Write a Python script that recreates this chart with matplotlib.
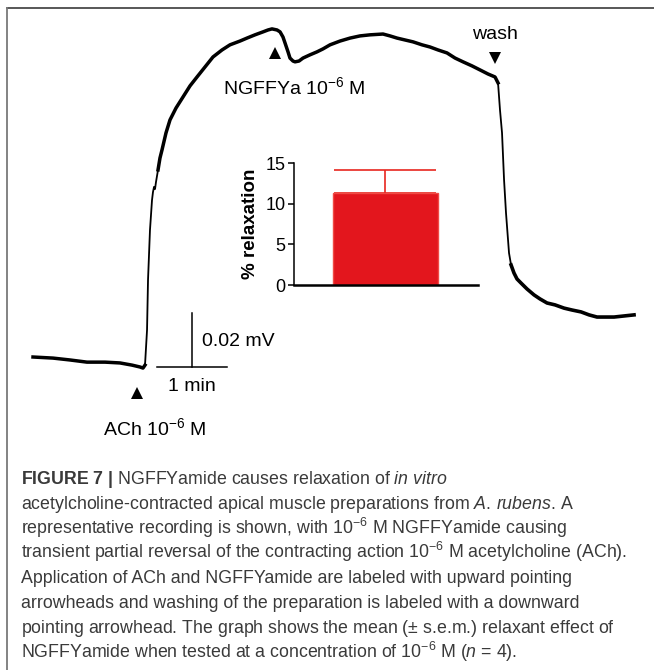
import matplotlib
matplotlib.use('Agg')
import matplotlib.pyplot as plt
from matplotlib.lines import Line2D

plt.rcParams['font.family'] = ['Liberation Sans', 'DejaVu Sans']
plt.rcParams['mathtext.fontset'] = 'custom'
plt.rcParams['mathtext.rm'] = 'Liberation Sans'
plt.rcParams['mathtext.it'] = 'Liberation Sans:italic'
plt.rcParams['mathtext.bf'] = 'Liberation Sans:bold'

# recording trace: time (min) and relative potential (mV)
trace_t = [0.0, 0.286, 0.529, 0.771, 1.029, 1.243, 1.414, 1.529, 1.571, 1.6,
           1.629, 1.643, 1.671, 1.7, 1.714, 1.729, 1.743, 1.757, 1.786, 1.814,
           1.843, 1.9, 1.957, 2.043, 2.143, 2.243, 2.343, 2.457, 2.571, 2.7,
           2.814, 2.957, 3.057, 3.171, 3.286, 3.357, 3.414, 3.486, 3.529, 3.571,
           3.6, 3.643, 3.671, 3.714, 3.743, 3.8, 3.857, 3.957, 4.057, 4.143,
           4.243, 4.386, 4.529, 4.671, 4.814, 5.0, 5.1, 5.2, 5.314, 5.429,
           5.557, 5.671, 5.786, 5.914, 6.029, 6.143, 6.271, 6.386, 6.5, 6.6,
           6.643, 6.671, 6.7, 6.729, 6.757, 6.786, 6.8, 6.829, 6.871, 6.914,
           6.971, 7.057, 7.157, 7.243, 7.343, 7.457, 7.586, 7.7, 7.829, 7.943,
           8.057, 8.171, 8.3, 8.443, 8.586]
trace_v = [0.0, -0.0004, -0.0011, -0.0019, -0.0019, -0.0022, -0.003, -0.0037, -0.0041, -0.003,
           0.01, 0.0285, 0.047, 0.0581, 0.0611, 0.0630, 0.0622, 0.0648, 0.0693, 0.0737,
           0.0767, 0.083, 0.0878, 0.0922, 0.0963, 0.1004, 0.1037, 0.1074, 0.1111, 0.1137,
           0.1156, 0.117, 0.1181, 0.1193, 0.1204, 0.1211, 0.1215, 0.1211, 0.1204, 0.1185,
           0.1163, 0.113, 0.1107, 0.1096, 0.1093, 0.1096, 0.1107, 0.1119, 0.113, 0.1141,
           0.1156, 0.117, 0.1181, 0.1189, 0.1193, 0.1196, 0.1189, 0.1181, 0.1174, 0.1167,
           0.1156, 0.1148, 0.1137, 0.1126, 0.1107, 0.1093, 0.1078, 0.1063, 0.1048, 0.1037,
           0.1015, 0.0915, 0.083, 0.0656, 0.0533, 0.0433, 0.0385, 0.0341, 0.0311, 0.0289,
           0.0274, 0.0252, 0.023, 0.0215, 0.02, 0.0193, 0.0181, 0.0174, 0.0167, 0.0156,
           0.0148, 0.0148, 0.0148, 0.0152, 0.0156]

# event markers (time, level)
ach_t, ach_v = 1.486, -0.0133
ngffya_t, ngffya_v = 3.457, 0.1126
wash_t, wash_v = 6.6, 0.1107

# inset: % relaxation
relax_mean = 11.3
relax_sem = 2.9
inset_ticks = [0, 5, 10, 15]

caption = [
    r'$\mathbf{FIGURE\ 7\ |}$ NGFFYamide causes relaxation of $\mathit{in}$ $\mathit{vitro}$',
    r'acetylcholine-contracted apical muscle preparations from $\mathit{A.\,rubens}$. A',
    r'representative recording is shown, with 10$^{-6}$ M NGFFYamide causing',
    r'transient partial reversal of the contracting action 10$^{-6}$ M acetylcholine (ACh).',
    r'Application of ACh and NGFFYamide are labeled with upward pointing',
    r'arrowheads and washing of the preparation is labeled with a downward',
    r'pointing arrowhead. The graph shows the mean ($\pm$ s.e.m.) relaxant effect of',
    r'NGFFYamide when tested at a concentration of 10$^{-6}$ M ($\mathit{n}$ = 4).',
]

W, H = 654, 670
fig = plt.figure(figsize=(W / 100, H / 100), dpi=100)
fig.patch.set_facecolor('white')

ax = fig.add_axes([0, 0, 1, 1])
ax.set_xlim(-0.4714, 8.871)
ax.set_ylim(-0.1159, 0.1322)
ax.axis('off')

# thin line for the whole trace, thicker where the signal is noisy
ax.plot(trace_t, trace_v, color='black', lw=1.3, solid_joinstyle='round')
ax.plot(trace_t[:10], trace_v[:10], color='black', lw=2.5, solid_joinstyle='round')
ax.plot(trace_t[18:71], trace_v[18:71], color='black', lw=2.5, solid_joinstyle='round')
ax.plot(trace_t[77:], trace_v[77:], color='black', lw=2.6, solid_joinstyle='round')

ax.plot([ach_t], [ach_v], marker='^', color='black', ms=9, mew=0)
ax.plot([ngffya_t], [ngffya_v], marker='^', color='black', ms=9, mew=0)
ax.plot([wash_t], [wash_v], marker='v', color='black', ms=9, mew=0)

fs = 14
ax.text(1.743, -0.0289, r'ACh 10$^{\mathregular{-6}}$ M', fontsize=fs, ha='center', va='baseline')
ax.text(2.714, 0.0974, r'NGFFYa 10$^{\mathregular{-6}}$ M', fontsize=fs, ha='left', va='baseline')
ax.text(wash_t, 0.1193, 'wash', fontsize=fs, ha='center', va='center')

# scale bar: 1 min x 0.02 mV
sb_t, sb_v = 1.771, -0.0037
ax.plot([sb_t, sb_t + 1.0], [sb_v, sb_v], color='black', lw=1.1)
ax.plot([sb_t + 0.5, sb_t + 0.5], [sb_v, sb_v + 0.02], color='black', lw=1.1)
ax.text(sb_t + 0.643, sb_v + 0.0093, '0.02 mV', fontsize=fs, ha='left', va='center')
ax.text(sb_t + 0.5, sb_v - 0.0074, '1 min', fontsize=fs, ha='center', va='center')

# inset bar chart
ax2 = fig.add_axes([294 / W, (H - 285) / H, 184 / W, 122 / H])
ax2.bar([0], [relax_mean], width=1.0, color='#e3161d', edgecolor='#f04a45', lw=1.0, zorder=2)
ax2.errorbar([0], [relax_mean], yerr=[[0], [relax_sem]], fmt='none', ecolor='#e8261f',
             elinewidth=1.2, capsize=37, capthick=1.2, zorder=1)
ax2.set_xlim(-0.87, 0.88)
ax2.set_ylim(0, 15)
ax2.set_yticks(inset_ticks)
ax2.set_xticks([])
ax2.spines['top'].set_visible(False)
ax2.spines['right'].set_visible(False)
ax2.spines['left'].set_linewidth(1.1)
ax2.spines['bottom'].set_linewidth(1.8)
ax2.tick_params(axis='y', direction='out', length=4, width=1.1, labelsize=13, pad=2)
ax2.set_ylabel('% relaxation', fontsize=13.5, fontweight='bold', labelpad=5)
ax2.patch.set_alpha(0)

# frame lines
fig.add_artist(Line2D([7 / W, 1], [1 - 8 / H, 1 - 8 / H], transform=fig.transFigure,
                      color='#4a4a4a', lw=1.3))
fig.add_artist(Line2D([7 / W, 7 / W], [0, 1 - 8 / H], transform=fig.transFigure,
                      color='#7a7a7a', lw=1.3))

# caption
baselines = [484, 509, 534, 558, 583, 608, 633, 658]
for line, yb in zip(caption, baselines):
    fig.text(21 / W, 1 - yb / H, line, fontsize=12.8, color='#3a3a3a', ha='left', va='baseline')

fig.savefig('out.png', dpi=100, facecolor='white')
